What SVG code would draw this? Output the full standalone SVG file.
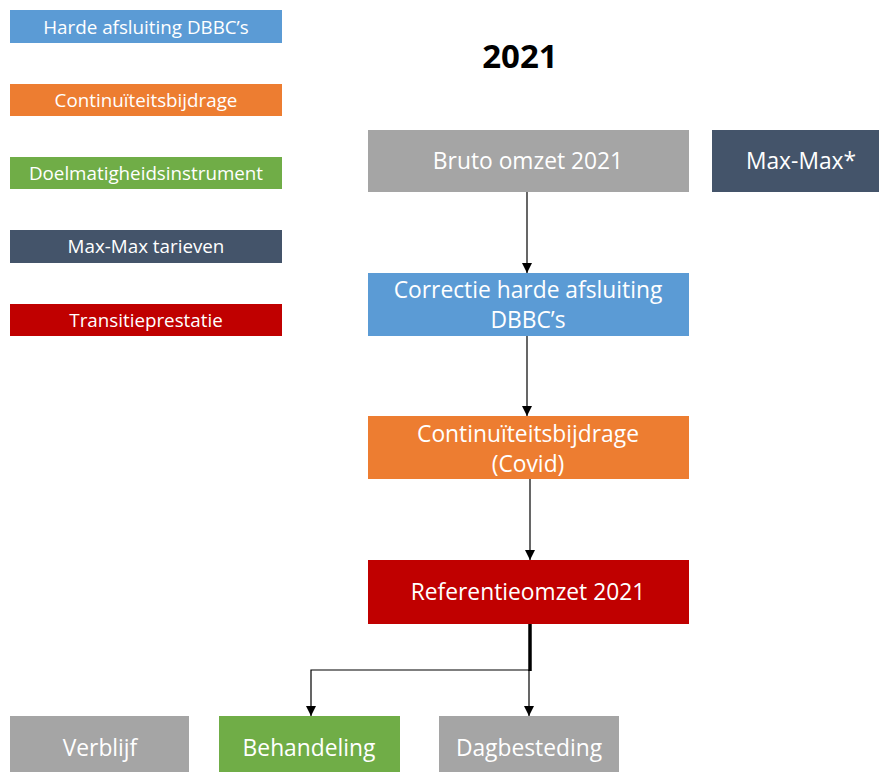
<svg xmlns="http://www.w3.org/2000/svg" width="879" height="772" viewBox="0 0 879 772">
<defs>
<style>
text{font-family:"Open Sans","Liberation Sans",sans-serif;fill:#fff;text-anchor:middle;dominant-baseline:central}
.leg{font-size:18.8px}
.main{font-size:22.8px}
.c{stroke:#000;stroke-width:1.2;fill:none}
</style>
<marker id="ah" viewBox="0 0 10 10" refX="10" refY="5" markerWidth="10" markerHeight="10" markerUnits="userSpaceOnUse" orient="auto">
<path d="M0,0 L10,5 L0,10 Z" fill="#000"/>
</marker>
</defs>
<rect width="879" height="772" fill="#fff"/>
<text x="520" y="55" style="font-size:33px;font-weight:bold;fill:#000;font-family:'Open Sans','Liberation Sans',sans-serif">2021</text>

<g id="legend-harde"><rect x="10" y="10" width="272" height="33" fill="#5B9BD5"/><text class="leg" x="146" y="27">Harde afsluiting DBBC’s</text></g>
<g id="legend-continu"><rect x="10" y="84" width="272" height="32" fill="#ED7D31"/><text class="leg" x="146" y="100">Continuïteitsbijdrage</text></g>
<g id="legend-doelmatig"><rect x="10" y="157" width="272" height="32" fill="#70AD47"/><text class="leg" x="146" y="173">Doelmatigheidsinstrument</text></g>
<g id="legend-maxmax"><rect x="10" y="230" width="272" height="33" fill="#44546A"/><text class="leg" x="146" y="246">Max-Max tarieven</text></g>
<g id="legend-transitie"><rect x="10" y="304" width="272" height="32" fill="#C00000"/><text class="leg" x="146" y="320">Transitieprestatie</text></g>

<g id="bruto"><rect x="368" y="130" width="321" height="62" fill="#A5A5A5"/><text class="main" x="528" y="160">Bruto omzet 2021</text></g>
<g id="maxmax"><rect x="712" y="130" width="170" height="62" fill="#44546A"/><text class="main" x="801" y="160">Max-Max*</text></g>
<g id="correctie"><rect x="368" y="273" width="321" height="63" fill="#5B9BD5"/><text class="main" x="528" y="289">Correctie harde afsluiting</text><text class="main" x="528" y="319">DBBC’s</text></g>
<g id="continu"><rect x="368" y="416" width="321" height="63" fill="#ED7D31"/><text class="main" x="528" y="433">Continuïteitsbijdrage</text><text class="main" x="528" y="463">(Covid)</text></g>
<g id="referentie"><rect x="368" y="560" width="321" height="64" fill="#C00000"/><text class="main" x="528" y="591">Referentieomzet 2021</text></g>
<g id="verblijf"><rect x="10" y="716" width="179" height="56" fill="#A5A5A5"/><text class="main" x="100" y="747">Verblijf</text></g>
<g id="behandeling"><rect x="219" y="716" width="181" height="56" fill="#70AD47"/><text class="main" x="309" y="747">Behandeling</text></g>
<g id="dagbesteding"><rect x="439" y="716" width="180" height="56" fill="#A5A5A5"/><text class="main" x="529" y="747">Dagbesteding</text></g>

<g id="connectors">
<line class="c" x1="527" y1="192" x2="527" y2="273" marker-end="url(#ah)"/>
<line class="c" x1="527" y1="336" x2="527" y2="416" marker-end="url(#ah)"/>
<line class="c" x1="530" y1="479" x2="530" y2="560" marker-end="url(#ah)"/>
<line x1="530" y1="624" x2="530" y2="671" stroke="#000" stroke-width="3.5"/>
<polyline class="c" points="530,670 311,670 311,716" marker-end="url(#ah)"/>
<line class="c" x1="529" y1="670" x2="529" y2="716" marker-end="url(#ah)"/>
</g>
</svg>
